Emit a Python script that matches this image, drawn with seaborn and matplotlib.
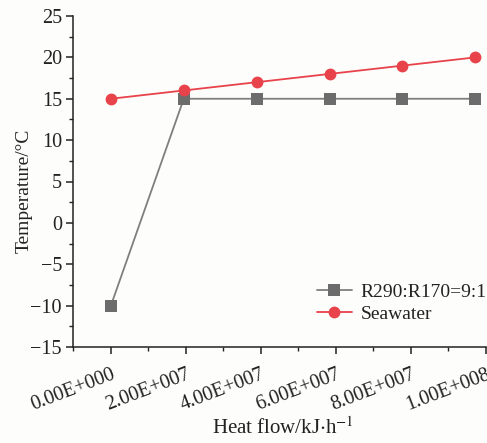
import matplotlib
matplotlib.use("Agg")
import matplotlib.pyplot as plt
import seaborn as sns
import pandas as pd
from matplotlib.ticker import MultipleLocator

# Heat flow (kJ/h) along the exchanger and corresponding temperatures
heat_flow = [0.0, 1.943e7, 3.886e7, 5.829e7, 7.772e7, 9.715e7]
refrigerant_temp = [-10, 15, 15, 15, 15, 15]
seawater_temp = [15, 16, 17, 18, 19, 20]
series_names = ["R290:R170=9:1", "Seawater"]
x_tick_values = [0, 2e7, 4e7, 6e7, 8e7, 1e8]
x_tick_labels = ["0.00E+000", "2.00E+007", "4.00E+007", "6.00E+007", "8.00E+007", "1.00E+008"]

df = pd.DataFrame({
    "heat": heat_flow * 2,
    "temp": refrigerant_temp + seawater_temp,
    "series": [series_names[0]] * len(heat_flow) + [series_names[1]] * len(heat_flow),
})

sns.set_theme(style="ticks")
plt.rcParams["font.family"] = ["Liberation Serif", "DejaVu Serif"]
plt.rcParams["mathtext.fontset"] = "stix"

bg = "#fdfdfb"
fig = plt.figure(figsize=(4.87, 4.43), dpi=100, facecolor=bg)
ax = fig.add_axes([73 / 487, 1 - 347 / 443, (486 - 73) / 487, (347 - 16) / 443])
ax.set_facecolor(bg)

palette = {series_names[0]: "#7f7f7f", series_names[1]: "#e8434a"}
sns.lineplot(data=df, x="heat", y="temp", hue="series", style="series",
             markers={series_names[0]: "s", series_names[1]: "o"}, dashes=False,
             palette=palette, linewidth=1.3, markersize=8.5, markeredgewidth=0,
             ax=ax, legend=True)

# darker fill for the square markers
for line in ax.lines:
    if line.get_marker() == "s":
        line.set_markerfacecolor("#6c6c6c")

ax.set_xlim(-1.01e7, 1.0e8)
ax.set_ylim(-15, 25)
ax.set_xticks(x_tick_values)
ax.set_xticklabels(x_tick_labels, rotation=21, ha="right", rotation_mode="anchor")
ax.xaxis.set_minor_locator(MultipleLocator(1e7))
ax.yaxis.set_minor_locator(MultipleLocator(2.5))
ax.set_yticks([-15, -10, -5, 0, 5, 10, 15, 20, 25])
ax.set_yticklabels(["\u221215", "\u221210", "\u22125", "0", "5", "10", "15", "20", "25"])

ax.tick_params(axis="both", which="major", direction="out", length=5, width=1.1,
               labelsize=14.5, color="#222222", labelcolor="#222222")
ax.tick_params(axis="both", which="minor", direction="out", length=3, width=1.0, color="#222222")
ax.tick_params(axis="x", which="major", pad=8)
ax.tick_params(axis="y", which="major", pad=3)

for side in ["top", "right"]:
    ax.spines[side].set_visible(False)
for side in ["left", "bottom"]:
    ax.spines[side].set_linewidth(1.1)
    ax.spines[side].set_color("#222222")

ax.set_xlabel("Heat flow/kJ$\\cdot$h$^{-1}$", fontsize=15, color="#222222")
ax.set_ylabel("Temperature/\u00b0C", fontsize=14, color="#222222")
ax.xaxis.set_label_coords(0.508, -0.212)
ax.yaxis.set_label_coords(-0.097, 0.473)

leg = ax.legend(loc="lower right", bbox_to_anchor=(1.02, 0.05), frameon=False,
                fontsize=14, handlelength=1.8, handletextpad=0.45, labelspacing=0.2,
                borderaxespad=0)
for t in leg.get_texts():
    t.set_color("#222222")

fig.savefig("out.png", dpi=100, facecolor=bg)
